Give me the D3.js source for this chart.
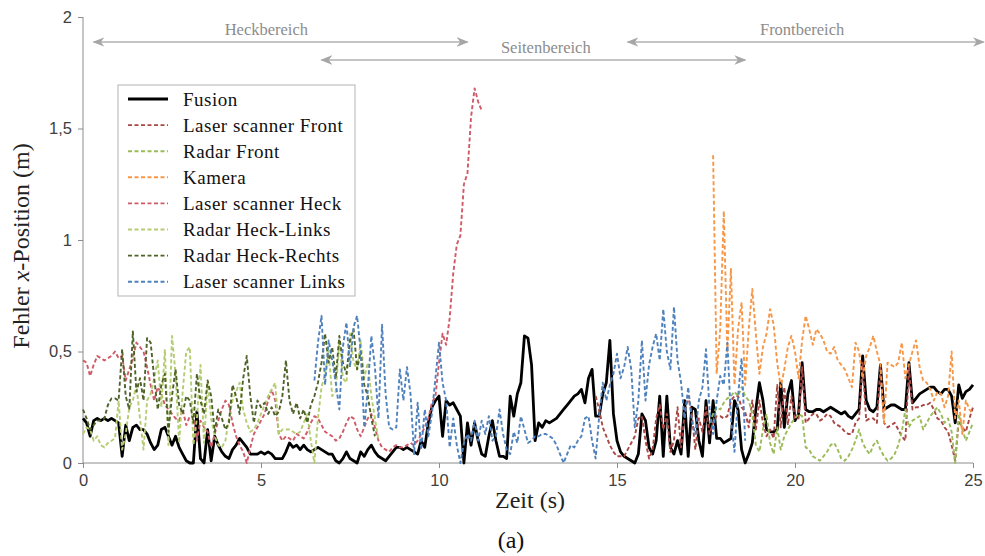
<!DOCTYPE html>
<html>
<head>
<meta charset="utf-8">
<script src="https://cdn.jsdelivr.net/npm/d3@7"></script>
<style>
  body { margin: 0; background: #fff; }
  .tick text { font-family: "Liberation Sans", Arial, sans-serif; font-size: 16.5px; fill: #404040; }
  .domain, .tick line { stroke: #8c8c8c; }
</style>
</head>
<body>
<svg id="vis"></svg>
<script>
// sampling step of every series (s)
var dt = 0.1;

var fusion = [
  0.20,0.18,0.12,0.19,0.20,0.19,0.20,0.19,0.20,0.19,
  0.18,0.03,0.17,0.10,0.16,0.17,0.15,0.15,0.13,0.09,
  0.06,0.08,0.15,0.16,0.12,0.08,0.12,0.07,0.04,0.01,
  0.00,0.00,0.23,0.02,0.00,0.15,0.01,0.12,0.08,0.05,
  0.03,0.02,0.06,0.08,0.11,0.09,0.07,0.04,0.04,0.04,
  0.05,0.04,0.05,0.04,0.02,0.02,0.02,0.05,0.09,0.07,
  0.08,0.06,0.08,0.06,0.05,0.06,0.07,0.06,0.05,0.04,
  0.04,0.01,0.00,0.02,0.05,0.02,0.01,0.00,0.05,0.03,
  0.06,0.08,0.05,0.03,0.02,0.01,0.03,0.05,0.07,0.07,
  0.06,0.07,0.06,0.05,0.04,0.10,0.07,0.18,0.25,0.28,
  0.30,0.12,0.28,0.26,0.27,0.24,0.21,0.00,0.18,0.08,
  0.18,0.10,0.04,0.03,0.12,0.19,0.10,0.03,0.03,0.02,
  0.30,0.21,0.31,0.36,0.57,0.56,0.44,0.10,0.18,0.16,
  0.19,0.18,0.19,0.20,0.22,0.24,0.26,0.28,0.30,0.31,
  0.33,0.27,0.38,0.42,0.21,0.21,0.31,0.36,0.55,0.22,
  0.10,0.05,0.03,0.02,0.01,0.00,0.04,0.22,0.19,0.07,
  0.04,0.10,0.30,0.03,0.30,0.07,0.04,0.10,0.04,0.28,
  0.03,0.25,0.24,0.10,0.03,0.28,0.09,0.28,0.11,0.11,
  0.09,0.10,0.11,0.28,0.24,0.06,0.00,0.04,0.09,0.24,
  0.36,0.28,0.15,0.14,0.14,0.15,0.36,0.16,0.31,0.37,
  0.19,0.22,0.45,0.24,0.23,0.23,0.24,0.24,0.23,0.24,
  0.25,0.24,0.23,0.22,0.23,0.21,0.20,0.22,0.24,0.48,
  0.28,0.24,0.23,0.25,0.44,0.24,0.25,0.26,0.26,0.25,
  0.24,0.24,0.45,0.27,0.29,0.31,0.32,0.33,0.34,0.34,
  0.32,0.31,0.33,0.33,0.30,0.18,0.35,0.29,0.32,0.33,
  0.35
];

// Laser scanner Front, starts at 14.4 s
var laserFront = [
  0.30,0.24,0.16,0.12,0.08,0.05,
  0.03,0.03,0.03,0.06,0.09,0.12,0.20,0.21,0.10,0.02,
  0.06,0.20,0.26,0.15,0.22,0.05,0.10,0.25,0.07,0.22,
  0.30,0.22,0.06,0.20,0.14,0.25,0.13,0.18,0.21,0.21,
  0.20,0.21,0.28,0.30,0.30,0.25,0.23,0.16,0.28,0.15,
  0.28,0.18,0.12,0.15,0.11,0.35,0.16,0.34,0.17,0.30,
  0.20,0.20,0.43,0.18,0.20,0.22,0.22,0.19,0.20,0.22,
  0.21,0.18,0.17,0.16,0.14,0.13,0.13,0.18,0.20,0.45,
  0.19,0.20,0.20,0.18,0.43,0.18,0.16,0.17,0.18,0.15,
  0.12,0.10,0.43,0.24,0.25,0.25,0.26,0.26,0.27,0.24,
  0.20,0.19,0.16,0.14,0.08,0.01,0.19,0.16,0.14,0.20,
  0.25
];

// Radar Front, starts at 17.6 s
var radarFront = [
  0.18,0.22,0.25,0.24,
  0.27,0.29,0.30,0.32,0.30,0.34,0.30,0.28,0.22,0.08,
  0.05,0.15,0.22,0.09,0.04,0.16,0.06,0.12,0.15,0.18,
  0.20,0.22,0.21,0.07,0.06,0.03,0.02,0.01,0.03,0.05,
  0.08,0.09,0.06,0.02,0.01,0.03,0.06,0.10,0.15,0.09,
  0.06,0.04,0.08,0.10,0.06,0.03,0.01,0.02,0.04,0.08,
  0.14,0.24,0.16,0.19,0.20,0.21,0.15,0.18,0.21,0.23,
  0.25,0.22,0.18,0.20,0.14,0.00,0.22,0.15,0.10,0.14,
  0.18
];

// Kamera, starts at 17.7 s
var kamera = [
  1.38,0.40,0.60,
  1.13,0.50,0.87,0.35,0.60,0.72,0.35,0.60,0.78,0.58,
  0.40,0.52,0.58,0.69,0.62,0.45,0.34,0.42,0.52,0.57,
  0.50,0.38,0.55,0.66,0.60,0.53,0.60,0.58,0.55,0.50,
  0.49,0.52,0.46,0.44,0.42,0.38,0.34,0.54,0.50,0.38,
  0.48,0.52,0.57,0.50,0.44,0.18,0.45,0.44,0.43,0.45,
  0.54,0.38,0.44,0.50,0.55,0.43,0.37,0.36,0.33,0.28,
  0.32,0.31,0.25,0.30,0.50,0.20,0.28,0.13,0.28,0.24,
  0.22
];

// Laser scanner Heck, starts at 0 s
var laserHeck = [
  0.46,0.45,0.39,0.44,0.48,0.47,0.46,0.47,0.48,0.50,
  0.47,0.48,0.37,0.42,0.47,0.54,0.52,0.50,0.43,0.35,
  0.28,0.34,0.31,0.26,0.24,0.22,0.20,0.19,0.24,0.17,
  0.21,0.21,0.10,0.19,0.16,0.14,0.07,0.13,0.19,0.24,
  0.28,0.26,0.18,0.12,0.08,0.05,0.00,0.07,0.13,0.16,
  0.19,0.22,0.28,0.33,0.28,0.13,0.10,0.12,0.11,0.10,
  0.13,0.12,0.11,0.14,0.18,0.21,0.20,0.17,0.14,0.13,
  0.12,0.10,0.11,0.14,0.18,0.21,0.20,0.15,0.12,0.16,
  0.20,0.22,0.16,0.10,0.07,0.06,0.05,0.07,0.08,0.07,
  0.07,0.08,0.09,0.08,0.10,0.13,0.16,0.20,0.27,0.30,
  0.45,0.58,0.53,0.65,0.85,0.98,1.02,1.25,1.30,1.55,
  1.68,1.62,1.58
];

// Radar Heck-Links, starts at 0 s
var radarHeckLinks = [
  0.13,0.16,0.15,0.10,0.12,0.08,0.07,0.09,0.10,0.11,
  0.28,0.06,0.13,0.25,0.28,0.35,0.20,0.06,0.28,0.31,
  0.38,0.46,0.25,0.51,0.08,0.57,0.40,0.09,0.32,0.50,
  0.52,0.08,0.20,0.44,0.09,0.36,0.20,0.12,0.08,0.07,
  0.10,0.20,0.28,0.32,0.36,0.24,0.18,0.14,0.15,0.18,
  0.22,0.26,0.30,0.33,0.36,0.13,0.15,0.15,0.15,0.14,
  0.13,0.14,0.18,0.22,0.10,0.00,0.20,0.34,0.40,0.50,
  0.30,0.32,0.55,0.38,0.36,0.58,0.45,0.42,0.55,0.38,
  0.45,0.30,0.20,0.10
];

// Radar Heck-Rechts, starts at 0 s
var radarHeckRechts = [
  0.24,0.20,0.15,0.17,0.19,0.19,0.20,0.26,0.29,0.29,
  0.28,0.51,0.30,0.24,0.59,0.32,0.38,0.28,0.56,0.54,
  0.38,0.24,0.35,0.40,0.14,0.30,0.42,0.26,0.22,0.30,
  0.28,0.18,0.40,0.28,0.22,0.37,0.30,0.14,0.24,0.20,
  0.15,0.18,0.35,0.30,0.22,0.38,0.48,0.30,0.18,0.28,
  0.25,0.27,0.22,0.25,0.21,0.23,0.30,0.46,0.28,0.22,
  0.27,0.20,0.24,0.18,0.26,0.30,0.36,0.45,0.58,0.45,
  0.52,0.38,0.57,0.45,0.40,0.55,0.60,0.42,0.50,0.35,
  0.30,0.20,0.12
];

// Laser scanner Links, starts at 6.5 s
var laserLinks = [
  0.37,0.54,0.66,0.35,0.55,
  0.46,0.36,0.24,0.52,0.63,0.43,0.61,0.66,0.50,0.16,
  0.33,0.57,0.43,0.20,0.62,0.31,0.16,0.15,0.16,0.42,
  0.28,0.43,0.31,0.04,0.27,0.06,0.24,0.12,0.22,0.38,
  0.54,0.36,0.28,0.07,0.20,0.08,0.00,0.09,0.13,0.10,
  0.19,0.10,0.19,0.13,0.21,0.10,0.12,0.24,0.13,0.06,
  0.04,0.14,0.09,0.21,0.15,0.09,0.10,0.12,0.12,0.13,
  0.13,0.12,0.11,0.08,0.04,0.00,0.04,0.08,0.07,0.10,
  0.12,0.20,0.21,0.10,0.02,0.21,0.36,0.28,0.35,0.40,
  0.49,0.38,0.43,0.52,0.42,0.16,0.28,0.55,0.28,0.44,
  0.52,0.58,0.46,0.69,0.50,0.42,0.70,0.46,0.36,0.20,
  0.34,0.19,0.13,0.28,0.34,0.51,0.24,0.13,0.28,0.39,
  0.35,0.54,0.20,0.05,0.30,0.47,0.10
];

var seriesNames = ["Fusion", "Laser scanner Front", "Radar Front", "Kamera",
  "Laser scanner Heck", "Radar Heck-Links", "Radar Heck-Rechts", "Laser scanner Links"];
var seriesData = [fusion, laserFront, radarFront, kamera, laserHeck, radarHeckLinks, radarHeckRechts, laserLinks];
var seriesStart = [0, 14.4, 17.6, 17.7, 0, 0, 0, 6.5];
var seriesColors = ["#000000", "#a94743", "#9bbb59", "#f79646", "#d05a68", "#b5cc72", "#4f6228", "#4f81bd"];

var xTicks = [0, 5, 10, 15, 20, 25];
var yTicks = [0, 0.5, 1, 1.5, 2];

// zones along the top: name, start (s), end (s), label centre (s)
var zoneNames = ["Heckbereich", "Seitenbereich", "Frontbereich"];
var zoneStart = [0.3, 6.7, 15.3];
var zoneEnd = [10.8, 18.6, 25.3];
var zoneLabel = [5.15, 13.0, 20.2];
var zoneRow = [0, 1, 0];

var margin = {top: 17, right: 12, bottom: 93, left: 83},
    width = 985 - margin.left - margin.right,
    height = 556 - margin.top - margin.bottom;

var svg = d3.select("#vis")
    .attr("width", 985)
    .attr("height", 556);

var g = svg.append("g")
    .attr("transform", "translate(" + margin.left + "," + margin.top + ")");

var xScale = d3.scaleLinear().domain([0, 25]).range([0, 890]);
var yScale = d3.scaleLinear().domain([0, 2]).range([height, 0]);

var fmt = function (d) { return String(d).replace(".", ","); };

g.append("g")
    .attr("class", "x axis")
    .attr("transform", "translate(0," + height + ")")
    .call(d3.axisBottom(xScale).tickValues(xTicks).tickSize(5).tickPadding(6).tickFormat(fmt));

g.append("g")
    .attr("class", "y axis")
    .call(d3.axisLeft(yScale).tickValues(yTicks).tickSize(5).tickPadding(6).tickFormat(fmt));

g.selectAll(".domain").attr("d", null);
g.select(".x.axis").append("line").attr("x1", 0).attr("x2", xScale(25)).attr("stroke", "#8c8c8c");
g.select(".y.axis").append("line").attr("y1", 0).attr("y2", height).attr("stroke", "#8c8c8c");

// series lines (Fusion first, sensors drawn on top)
var line = d3.line()
    .x(function (d) { return xScale(d.t); })
    .y(function (d) { return yScale(d.v); });

seriesData.forEach(function (vals, k) {
    var pts = vals.map(function (v, i) {
        return {t: seriesStart[k] + i * dt, v: v};
    });
    g.append("path")
        .datum(pts)
        .attr("fill", "none")
        .attr("stroke", seriesColors[k])
        .attr("stroke-width", k === 0 ? 2.8 : 1.9)
        .attr("stroke-dasharray", k === 0 ? null : "4,2.5")
        .attr("stroke-linejoin", "round")
        .attr("d", line);
});

// zone arrows
var defs = svg.append("defs");
defs.append("marker")
    .attr("id", "arr")
    .attr("viewBox", "0 0 10 10")
    .attr("refX", 9).attr("refY", 5)
    .attr("markerWidth", 8).attr("markerHeight", 8)
    .attr("orient", "auto-start-reverse")
    .append("path")
    .attr("d", "M0,1 L10,5 L0,9 L3,5 Z")
    .attr("fill", "#a6a6a6");

zoneNames.forEach(function (name, i) {
    var yy = zoneRow[i] === 0 ? 25 : 43;
    g.append("line")
        .attr("x1", xScale(zoneStart[i])).attr("x2", xScale(zoneEnd[i]))
        .attr("y1", yy).attr("y2", yy)
        .attr("stroke", "#b0b0b0")
        .attr("stroke-width", 1.5)
        .attr("marker-start", "url(#arr)")
        .attr("marker-end", "url(#arr)");
    g.append("text")
        .attr("x", xScale(zoneLabel[i]))
        .attr("y", yy - 7)
        .style("text-anchor", "middle")
        .style("font-family", "'Liberation Serif', 'DejaVu Serif', serif")
        .style("font-size", "16.5px")
        .style("fill", "#8c8c8c")
        .text(name);
});

// legend
var legend = g.append("g").attr("transform", "translate(35,68)");
legend.append("rect")
    .attr("width", 237).attr("height", 211)
    .attr("fill", "#fff")
    .attr("stroke", "#b4b4b4");

var item = legend.selectAll(".legend")
    .data(seriesNames)
    .enter().append("g")
    .attr("class", "legend")
    .attr("transform", function (d, i) { return "translate(0," + (14 + i * 26.1) + ")"; });

item.append("line")
    .attr("x1", 10).attr("x2", 50)
    .attr("stroke", function (d, i) { return seriesColors[i]; })
    .attr("stroke-width", function (d, i) { return i === 0 ? 2.8 : 1.9; })
    .attr("stroke-dasharray", function (d, i) { return i === 0 ? null : "4,2.5"; });

item.append("text")
    .attr("x", 65)
    .attr("dy", ".35em")
    .style("font-family", "'Liberation Serif', 'Times New Roman', serif")
    .style("font-size", "19px")
    .style("letter-spacing", "0.5px")
    .style("fill", "#111")
    .text(function (d) { return d; });

// axis titles
svg.append("text")
    .attr("x", 530).attr("y", 508)
    .style("text-anchor", "middle")
    .style("font-family", "'Liberation Serif', 'Times New Roman', serif")
    .style("font-size", "24px")
    .style("fill", "#222")
    .text("Zeit (s)");

var yt = svg.append("text")
    .attr("transform", "translate(29,246) rotate(-90)")
    .style("text-anchor", "middle")
    .style("font-family", "'Liberation Serif', 'Times New Roman', serif")
    .style("font-size", "24px")
    .style("fill", "#222");
yt.append("tspan").text("Fehler ");
yt.append("tspan").style("font-style", "italic").text("x");
yt.append("tspan").text("-Position (m)");

svg.append("text")
    .attr("x", 511).attr("y", 548)
    .style("text-anchor", "middle")
    .style("font-family", "'Liberation Serif', 'Times New Roman', serif")
    .style("font-size", "24px")
    .style("fill", "#111")
    .text("(a)");
</script>
</body>
</html>
